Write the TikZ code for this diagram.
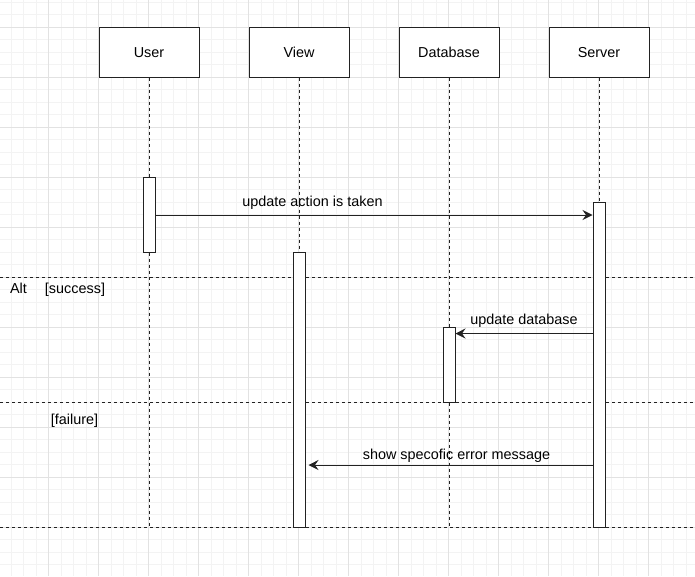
\documentclass[tikz,border=0pt]{standalone}
\usepackage{fontspec}
\setmainfont{Liberation Sans}
\usetikzlibrary{arrows.meta}
\definecolor{gridmajor}{HTML}{E2E2E2}
\definecolor{gridminor}{HTML}{F3F3F3}
\definecolor{ink}{HTML}{222222}
\begin{document}
\begin{tikzpicture}[x=1pt,y=-1pt,
  every node/.style={font=\fontsize{14.4}{17}\selectfont, text=black},
  actor/.style={draw=ink, line width=1pt, fill=white, minimum width=100pt, minimum height=50pt, inner sep=0pt, text height=10.5pt, text depth=0pt},
  activation/.style={draw=ink, line width=1pt, fill=white, minimum width=12pt, inner sep=0pt},
  lifeline/.style={draw=ink, line width=1pt, dash pattern=on 3pt off 3pt},
  frameline/.style={draw=ink, line width=1pt, dash pattern=on 3pt off 3pt},
  msg/.style={draw=ink, line width=1pt, -{Stealth[length=10pt,width=10pt,inset=3.5pt]}},
  lbl/.style={inner sep=0pt, anchor=center, text height=10.5pt, text depth=3pt}
]
\useasboundingbox (0,0) rectangle (695,576);
\fill[white] (0,0) rectangle (695,576);
% grid
\foreach \i in {0,...,55} {
  \pgfmathsetmacro{\gx}{11+12.5*\i}
  \ifdim\gx pt<695pt \draw[gridminor, line width=0.8pt] (\gx,0) -- (\gx,576);\fi
}
\foreach \i in {0,...,46} {
  \pgfmathsetmacro{\gy}{2+12.5*\i}
  \ifdim\gy pt<576pt \draw[gridminor, line width=0.8pt] (0,\gy) -- (695,\gy);\fi
}
\foreach \gx in {48.5,98.5,...,695} \draw[gridmajor, line width=0.9pt] (\gx,0) -- (\gx,576);
\foreach \gy in {27,77,...,576} \draw[gridmajor, line width=0.9pt] (0,\gy) -- (695,\gy);

% actors
\node[actor] (user) at (149,52) {User};
\node[actor] (view) at (299,52) {View};
\node[actor] (db) at (449,52) {Database};
\node[actor] (server) at (599,52) {Server};

% frame coordinates
\coordinate (f1l) at (0,277); \coordinate (f1r) at (695,277);
\coordinate (f2l) at (0,402); \coordinate (f2r) at (695,402);
\coordinate (f3l) at (0,527); \coordinate (f3r) at (695,527);

% activations
\node[activation, minimum height=75pt] (ua) at (149,214.5) {};
\node[activation, minimum height=275pt] (va) at (299,389.5) {};
\node[activation, minimum height=75pt] (da) at (449,364.5) {};
\node[activation, minimum height=325pt] (sa) at (599,364.5) {};
\coordinate (uend) at (149,527);
\coordinate (dend) at (449,527);

% lifelines
\draw[lifeline] (user.south) -- (ua.north);
\draw[lifeline] (ua.south) -- (uend);
\draw[lifeline] (view.south) -- (va.north);
\draw[lifeline] (db.south) -- (da.north);
\draw[lifeline] (da.south) -- (dend);
\draw[lifeline] (server.south) -- (sa.north);

% frame lines
\draw[frameline] (f1l) -- (f1r);
\draw[frameline] (f2l) -- (f2r);
\draw[frameline] (f3l) -- (f3r);

% redraw activations on top
\node[activation, minimum height=75pt] at (ua) {};
\node[activation, minimum height=275pt] at (va) {};
\node[activation, minimum height=75pt] at (da) {};
\node[activation, minimum height=325pt] at (sa) {};

% messages
\draw[msg] (ua.east |- 0,215) -- (sa.west |- 0,215);
\draw[msg] (sa.west |- 0,333.5) -- (da.east |- 0,333.5);
\draw[msg] (sa.west |- 0,465) -- ([xshift=3pt]va.east |- 0,465);

% labels
\node[lbl] (m1) at (312.5,203) {update action is taken};
\node[lbl] (m2) at (524,321) {update database};
\node[lbl] (m3) at (456.5,456) {show specofic error message};
\node[lbl] (alt) at (18.5,290) {Alt};
\node[lbl] (succ) at (75,290) {[success]};
\node[lbl] (fail) at (74.5,421) {[failure]};
\end{tikzpicture}
\end{document}
